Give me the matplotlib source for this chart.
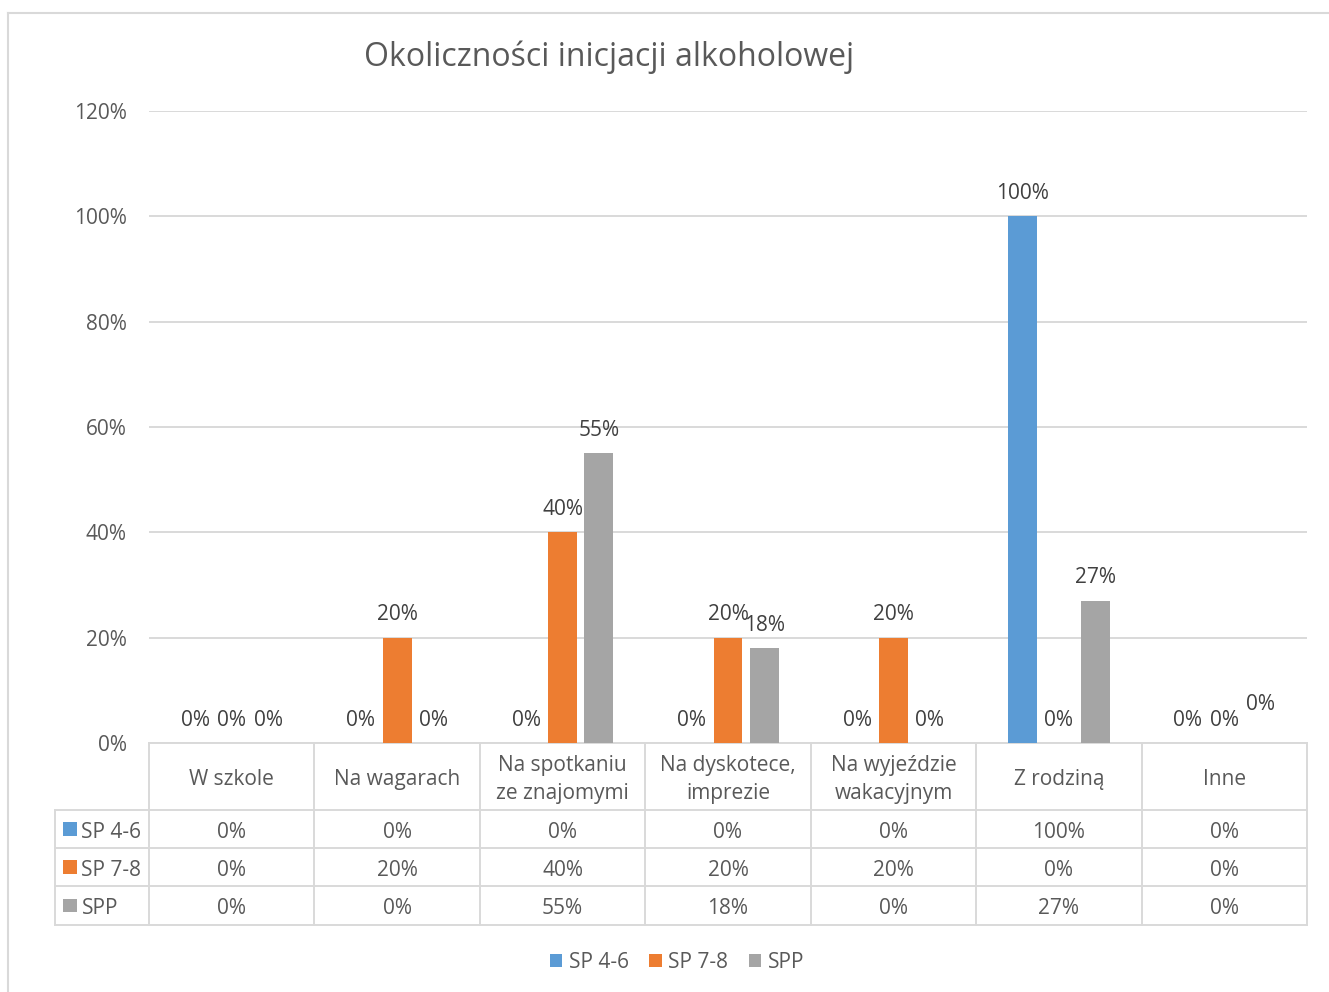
import numpy as np
import matplotlib
matplotlib.use("Agg")
import matplotlib.pyplot as plt
from matplotlib.patches import Patch, Rectangle
from matplotlib.lines import Line2D
import matplotlib.transforms as mtransforms

plt.rcParams['font.family'] = ['Open Sans', 'DejaVu Sans']

# ---- dane ----
title = "Okoliczności inicjacji alkoholowej"
categories = ["W szkole", "Na wagarach", "Na spotkaniu\nze znajomymi",
              "Na dyskotece,\nimprezie", "Na wyjeździe\nwakacyjnym",
              "Z rodziną", "Inne"]
series_names = ["SP 4-6", "SP 7-8", "SPP"]
sp46 = [0, 0, 0, 0, 0, 100, 0]
sp78 = [0, 20, 40, 20, 20, 0, 0]
spp = [0, 0, 55, 18, 0, 27, 0]
yticks = [0, 20, 40, 60, 80, 100, 120]
colors = ["#5b9bd5", "#ed7d31", "#a5a5a5"]

series = [sp46, sp78, spp]
text_c = "#595959"
grid_c = "#d9d9d9"
fs = 15

fig = plt.figure(figsize=(13.29, 9.92), dpi=100)
W, H = 1329, 992
ax = fig.add_axes([149 / W, 1 - 743 / H, (1307 - 149) / W, (743 - 111) / H])

x = np.arange(len(categories))
step = 0.22
width = 0.175
for i, (vals, col) in enumerate(zip(series, colors)):
    pos = x + (i - 1) * step
    ax.bar(pos, vals, width=width, color=col, zorder=3)
    for j, (p, v) in enumerate(zip(pos, vals)):
        extra = 11 if (i == 2 and j == 6) else 0  # Excel przesunął etykietę
        ax.annotate(f"{v}%", (p, v), xytext=(0, 16.5 + extra),
                    textcoords="offset points", ha="center", va="center",
                    fontsize=fs, color="#404040")

ax.set_xlim(-0.5, len(categories) - 0.5)
ax.set_ylim(0, 120)
ax.set_yticks(yticks)
ax.set_yticklabels([f"{t}%" for t in yticks], fontsize=fs, color=text_c)
ax.set_xticks([])
ax.tick_params(axis="y", length=0, pad=16)
ax.yaxis.grid(True, color=grid_c, linewidth=1.4, zorder=0)
for s in ax.spines.values():
    s.set_visible(False)

ax.set_title(title, fontsize=23, color=text_c, x=(609 - 149) / (1307 - 149), pad=0,
             y=(743 - 57) / 632, va="center")

# ---- tabela danych pod wykresem ----
tr = mtransforms.blended_transform_factory(ax.transData, ax.transAxes)
ph = 632.0
y_head_bot = -(810 - 743) / ph
row_edges = [y_head_bot, -(848 - 743) / ph, -(886 - 743) / ph, -(925 - 743) / ph]
x_left = -0.5 - (149 - 55) / ((1307 - 149) / len(categories))
x_right = len(categories) - 0.5
lw = 1.4
nudge = 3 / ph  # tekst w komórkach lekko niżej

def hline(x0, x1, y):
    ax.add_line(Line2D([x0, x1], [y, y], transform=tr, color=grid_c, lw=lw, clip_on=False))

def vline(xv, y0, y1):
    ax.add_line(Line2D([xv, xv], [y0, y1], transform=tr, color=grid_c, lw=lw, clip_on=False))

hline(-0.5, x_right, 0)
for yv in row_edges:
    hline(x_left, x_right, yv)
for k in range(len(categories) + 1):
    vline(k - 0.5, 0, row_edges[-1])
vline(x_left, y_head_bot, row_edges[-1])

for k, cat in enumerate(categories):
    ax.text(k, y_head_bot / 2 - nudge, cat, transform=tr, ha="center", va="center",
            fontsize=fs, color=text_c, linespacing=1.5)

for r, (name, vals, col) in enumerate(zip(series_names, series, colors)):
    yc = (row_edges[r] + row_edges[r + 1]) / 2
    ax.add_patch(Rectangle((x_left + 0.05, yc - 0.011), 0.085, 0.022, transform=tr,
                           facecolor=col, edgecolor="none", clip_on=False))
    ax.text(x_left + 0.16, yc - nudge, name, transform=tr, ha="left", va="center",
            fontsize=fs, color=text_c)
    for k, v in enumerate(vals):
        ax.text(k, yc - nudge, f"{v}%", transform=tr, ha="center", va="center",
                fontsize=fs, color=text_c)

# ---- legenda ----
handles = [Patch(facecolor=c, edgecolor="none") for c in colors]
fig.legend(handles, series_names, loc="center", bbox_to_anchor=(677 / W, 1 - 962 / H),
           ncol=3, frameon=False, fontsize=fs, handlelength=0.6, handleheight=0.6,
           handletextpad=0.3, columnspacing=1.0, labelcolor=text_c)

# ramka wykresu
fig.add_artist(Line2D([8 / W, 8 / W], [0, 1 - 13 / H], color=grid_c, lw=1.5))
fig.add_artist(Line2D([8 / W, 1], [1 - 13 / H, 1 - 13 / H], color=grid_c, lw=1.5))

fig.savefig("out.png", dpi=100)
